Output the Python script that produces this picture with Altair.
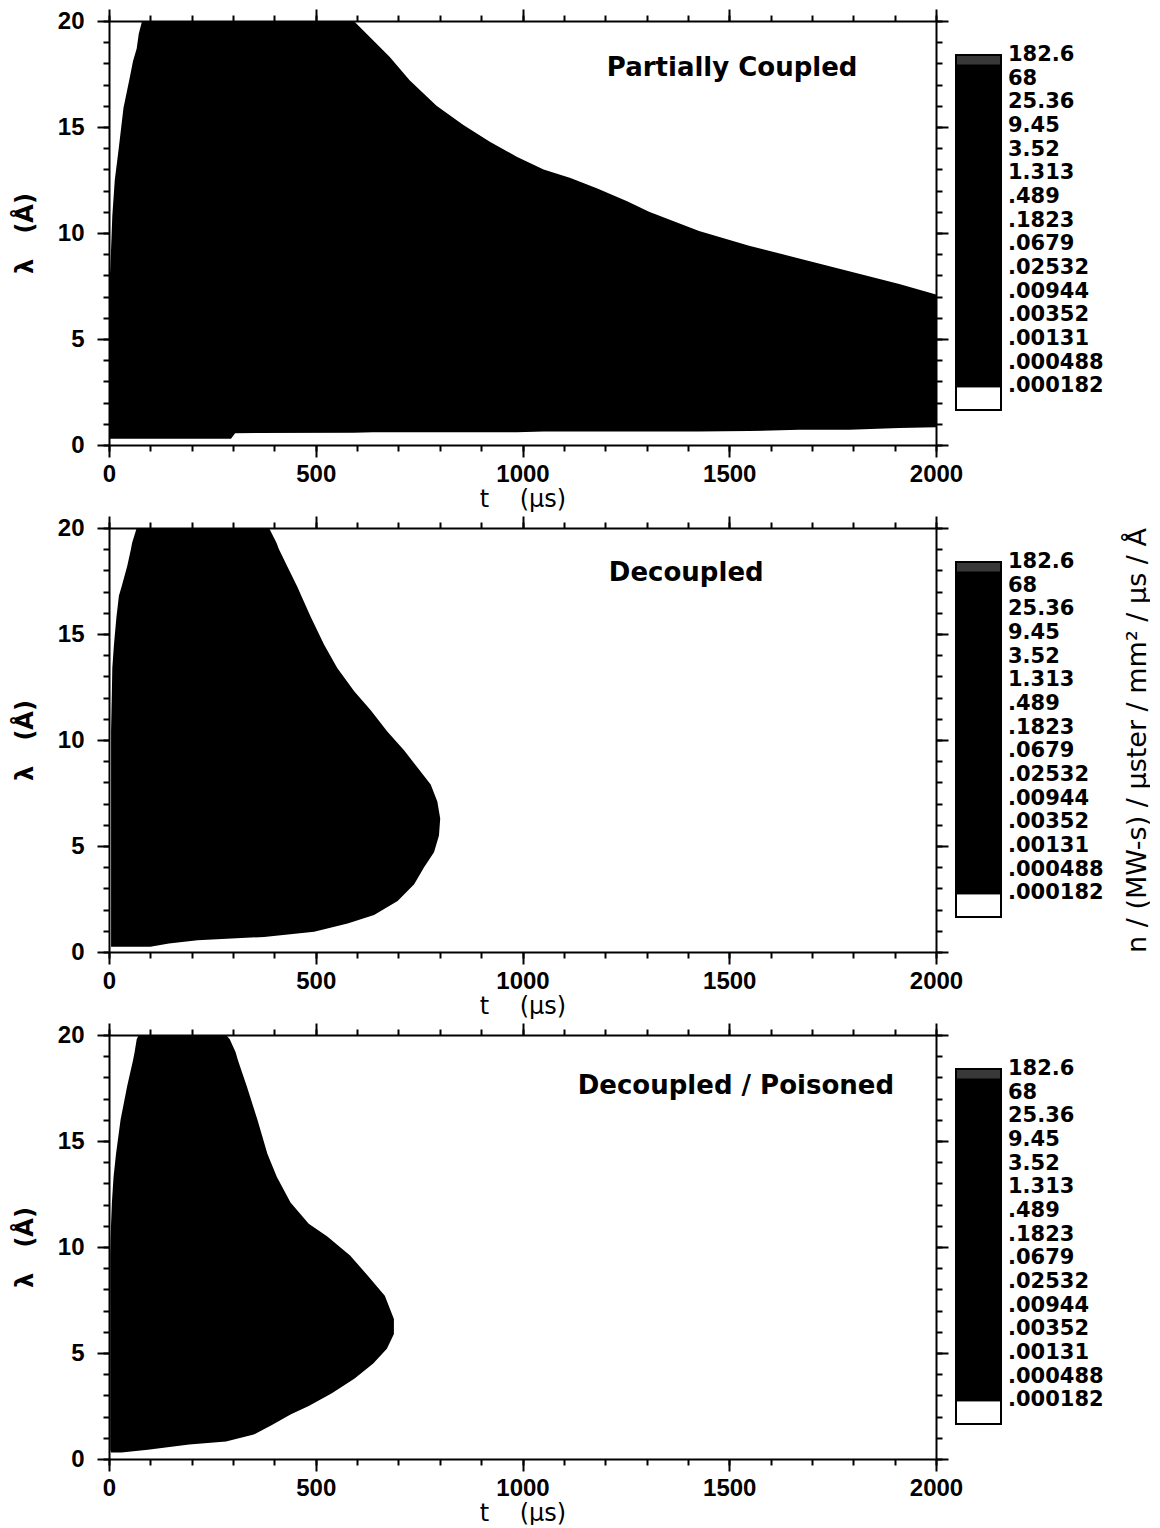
import altair as alt
import pandas as pd

# ---------------- data ----------------
# Panel 1 "Partially Coupled": filled region as a function of t (lower / upper lambda)
p1_t = [1, 3, 8, 14, 23, 35, 51, 58, 67, 72, 80, 295, 305, 592, 638, 679, 727, 792, 857, 921,
        986, 1051, 1116, 1181, 1253, 1306, 1427, 1548, 1669, 1790, 1911, 2000]
p1_lo = [0.3, 0.3, 0.3, 0.3, 0.3, 0.3, 0.3, 0.3, 0.3, 0.3, 0.3, 0.3, 0.56, 0.58, 0.6, 0.6, 0.6, 0.6, 0.6, 0.6,
         0.6, 0.64, 0.64, 0.64, 0.64, 0.64, 0.64, 0.66, 0.72, 0.72, 0.8, 0.84]
p1_hi = [8.0, 8.2, 10.8, 12.5, 13.9, 15.9, 17.4, 18.1, 18.7, 19.4, 20, 20, 20, 20, 19.1, 18.3, 17.2, 16.0, 15.1, 14.3,
         13.6, 13.0, 12.6, 12.1, 11.5, 11.0, 10.1, 9.4, 8.8, 8.2, 7.6, 7.1]

# Panel 2 "Decoupled": filled region as a function of lambda (earliest / latest t)
p2_lam = [0.25, 0.40, 0.55, 0.71, 0.95, 1.34, 1.74, 2.4, 3.2, 4.0, 4.7, 5.5, 6.3, 7.1, 7.9, 8.7, 9.5,
          10.4, 11.4, 12.3, 13.4, 14.5, 15.8, 16.8, 17.2, 18.2, 19.0, 19.3, 20.0]
p2_lo = [5, 5, 5, 5, 5, 5, 5, 5, 5, 5, 5, 5, 5, 5, 5, 5, 5,
         5, 6, 7, 8, 12, 18, 24, 30, 44, 53, 56, 67]
p2_hi = [100, 145, 214, 375, 496, 577, 641, 698, 738, 762, 786, 798, 801, 794, 778, 746, 714,
         673, 633, 593, 552, 520, 488, 465, 456, 431, 411, 405, 387]

# Panel 3 "Decoupled / Poisoned"
p3_lam = [0.31, 0.44, 0.68, 0.83, 1.15, 1.6, 2.1, 2.5, 3.1, 3.8, 4.5, 5.2, 5.9, 6.6, 7.7, 8.6, 9.6,
          10.5, 11.1, 12.1, 13.3, 14.4, 16.0, 17.6, 18.8, 19.2, 19.8, 20.0]
p3_lo = [5, 3, 3, 3, 3, 3, 3, 3, 3, 3, 3, 3, 3, 3, 3, 3, 3,
         4, 5, 7, 11, 17, 28, 44, 58, 62, 67, 72]
p3_hi = [30, 94, 194, 283, 350, 394, 439, 483, 539, 594, 639, 672, 689, 689, 667, 628, 583,
         528, 483, 439, 406, 383, 359, 333, 312, 306, 292, 283]

panel_titles = ["Partially Coupled", "Decoupled", "Decoupled / Poisoned"]
title_t = [1507, 1396, 1516]
title_lam = [17.8, 17.9, 17.6]

# colour bar
cb_labels = ["182.6", "68", "25.36", "9.45", "3.52", "1.313", ".489", ".1823", ".0679",
             ".02532", ".00944", ".00352", ".00131", ".000488", ".000182"]
cb_lo = [0, 1, 2, 3, 4, 5, 6, 7, 8, 9, 10, 11, 12, 13, 14, 14.55]
cb_hi = [1, 2, 3, 4, 5, 6, 7, 8, 9, 10, 11, 12, 13, 14, 14.55, 15]
cb_col = ["#ffffff"] + ["#000000"] * 14 + ["#383838"]

x_major = [0, 500, 1000, 1500, 2000]
x_minor = list(range(0, 2001, 100))
y_major = [0, 5, 10, 15, 20]
y_minor = list(range(0, 21, 1))

NB = "\u00a0"
X_TITLE = "t" + NB * 4 + "(μs)"
Y_TITLE = "λ" + NB * 3 + "(Å)"
CB_TITLE = "n / (MW-s) / μster / mm² / μs / Å"

# ---------------- chart ----------------
W, H = 827, 424
XS = alt.Scale(domain=[0, 2000], nice=False, zero=False)
YS = alt.Scale(domain=[0, 20], nice=False, zero=False)
TICK_FONT = "Liberation Sans"


def xaxis(orient, major):
    kw = dict(orient=orient, domainColor="black", domainWidth=2, tickColor="black",
              tickWidth=2, grid=False, labelFlush=False)
    if major:
        kw.update(values=x_major, tickSize=12)
    else:
        kw.update(values=x_minor, tickSize=6, domain=False)
    if orient == "bottom" and major:
        kw.update(labels=True, format="d", labelFont=TICK_FONT, labelFontSize=24,
                  labelFontWeight="bold", labelColor="black", labelPadding=5, title=X_TITLE,
                  titleFont="DejaVu Sans", titleFontSize=24, titleFontWeight="normal",
                  titleColor="black", titlePadding=1)
    else:
        kw.update(labels=False, title=None)
    return alt.Axis(**kw)


def yaxis(orient, major):
    kw = dict(orient=orient, domainColor="black", domainWidth=2, tickColor="black",
              tickWidth=2, grid=False, labelFlush=False)
    if major:
        kw.update(values=y_major, tickSize=12)
    else:
        kw.update(values=y_minor, tickSize=6, domain=False)
    if orient == "left" and major:
        kw.update(labels=True, format="d", labelFont=TICK_FONT, labelFontSize=24,
                  labelFontWeight="bold", labelColor="black", labelPadding=13, title=Y_TITLE,
                  titleFont="DejaVu Sans", titleFontSize=24, titleFontWeight="bold",
                  titleColor="black", titlePadding=20)
    else:
        kw.update(labels=False, title=None)
    return alt.Axis(**kw)


def make_panel(df, orient, k):
    specs = [("bottom", "left", True), ("bottom", "left", False),
             ("top", "right", True), ("top", "right", False)]
    layers = []
    for i, (xo, yo, major) in enumerate(specs):
        m = alt.Chart(df).mark_area(orient=orient, color="black", opacity=1 if i == 0 else 0,
                                    clip=True)
        if orient == "vertical":
            enc = dict(x=alt.X("t:Q", scale=XS, axis=xaxis(xo, major)),
                       y=alt.Y("lo:Q", scale=YS, axis=yaxis(yo, major)),
                       y2="hi:Q")
        else:
            enc = dict(y=alt.Y("lam:Q", scale=YS, axis=yaxis(yo, major)),
                       x=alt.X("lo:Q", scale=XS, axis=xaxis(xo, major)),
                       x2="hi:Q")
        layers.append(m.encode(**enc))
    tdf = pd.DataFrame({"t": [title_t[k]], "lam": [title_lam[k]], "s": [panel_titles[k]]})
    text = alt.Chart(tdf).mark_text(font="DejaVu Sans", fontWeight="bold", fontSize=26,
                                    color="black", baseline="middle").encode(
        x=alt.X("t:Q", scale=XS, axis=None),
        y=alt.Y("lam:Q", scale=YS, axis=None),
        text="s:N")
    return alt.layer(*layers, text).resolve_axis(x="independent", y="independent").properties(
        width=W, height=H)


CBS = alt.Scale(domain=[-35 / 23.7, 15 + 34 / 23.7], nice=False, zero=False)


def make_colorbar(show_title):
    cells = pd.DataFrame({"lo": cb_lo, "hi": cb_hi, "c": cb_col})
    labs = pd.DataFrame({"lab": cb_labels, "pos": [15 - i for i in range(len(cb_labels))]})
    if show_title:
        ax = alt.Axis(orient="right", title=CB_TITLE, labels=False,
                      ticks=False, domain=False, grid=False, titleAngle=270,
                      titleBaseline="top", titleFont="DejaVu Sans", titleFontSize=27,
                      titleFontWeight="normal", titleColor="black", titlePadding=18)
    else:
        ax = None
    rect = alt.Chart(cells).mark_rect(stroke="black", strokeWidth=2).encode(
        x=alt.value(0), x2=alt.value(45),
        y=alt.Y("lo:Q", scale=CBS, axis=ax), y2="hi:Q",
        color=alt.Color("c:N", scale=None))
    text = alt.Chart(labs).mark_text(align="left", baseline="middle", font="DejaVu Sans",
                                     fontWeight="bold", fontSize=21, color="black").encode(
        x=alt.value(52), y=alt.Y("pos:Q", scale=CBS, axis=None), text="lab:N")
    return alt.layer(rect, text).resolve_axis(y="independent").properties(width=150, height=H)


df1 = pd.DataFrame({"t": p1_t, "lo": p1_lo, "hi": p1_hi})
df2 = pd.DataFrame({"lam": p2_lam, "lo": p2_lo, "hi": p2_hi})
df3 = pd.DataFrame({"lam": p3_lam, "lo": p3_lo, "hi": p3_hi})

rows = [
    alt.hconcat(make_panel(df1, "vertical", 0), make_colorbar(False), spacing=20, bounds="flush"),
    alt.hconcat(make_panel(df2, "horizontal", 1), make_colorbar(True), spacing=20, bounds="flush"),
    alt.hconcat(make_panel(df3, "horizontal", 2), make_colorbar(False), spacing=20, bounds="flush"),
]

chart = alt.vconcat(*rows, spacing=4).properties(
    padding={"left": 5, "top": 0, "right": 0, "bottom": 0},
    background="white",
).configure_view(stroke=None)

chart.save("out.html", embed_options={"renderer": "svg", "actions": False})
